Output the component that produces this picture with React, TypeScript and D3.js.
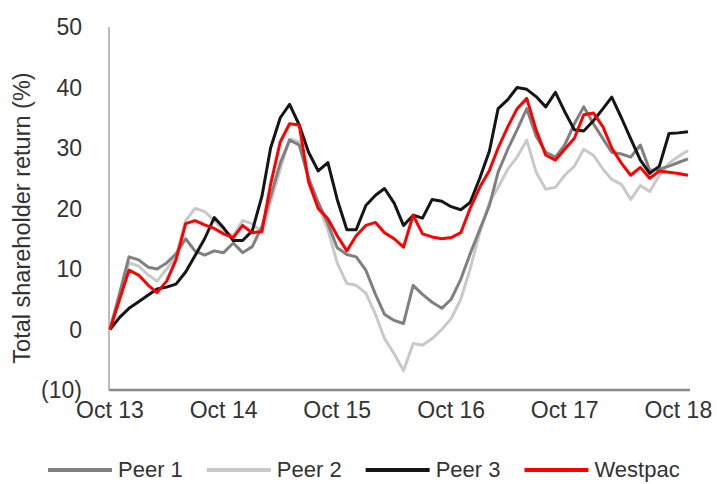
import { useEffect, useRef } from "react";
import * as d3 from "d3";

const width = 717;
const height = 484;
const marginLeft = 110;
const plotRight = 688;
const marginTop = 27;
const plotBottom = 390;

// monthly observations Oct 13 .. Nov 18
const months = d3.timeMonth.range(new Date(2013, 9, 1), new Date(2018, 11, 1));

const peer1 = [
  0, 6, 12, 11.5, 10.3, 10, 11, 12.5, 15, 13, 12.3, 13, 12.7, 14.3, 12.7, 13.7,
  17, 22, 27.5, 31.3, 30.5, 25, 21, 17.5, 13.5, 12.4, 12, 9.8, 5.8, 2.5, 1.5, 1,
  7.3, 5.8, 4.5, 3.5, 5, 8.3, 12.5, 16.5, 20.5, 26, 29.8, 33, 36.5, 32, 29.3,
  28.5, 30.5, 34, 36.8, 34, 31.5, 29.3, 29, 28.5, 30.5, 26.3, 26.5, 27, 27.6,
  28.2,
];
const peer2 = [
  0, 5.5, 11, 10.5, 9, 8, 10, 12, 18, 20, 19.5, 18, 16.4, 15.5, 18, 17.5, 16,
  21, 26.5, 31.5, 31, 25, 20.5, 16.5, 11, 7.6, 7.3, 6, 2.5, -1.5, -4, -6.8,
  -2.3, -2.6, -1.5, 0, 1.8, 5, 10, 16, 21, 23.5, 26.5, 28.5, 31.3, 26, 23.2,
  23.5, 25.5, 27, 29.8, 28.8, 26.5, 24.8, 24, 21.5, 23.8, 22.8, 25.5, 27.5,
  28.6, 29.6,
];
const peer3 = [
  0, 2, 3.5, 4.6, 5.7, 6.7, 7, 7.5, 9.5, 12.2, 15, 18.5, 16.8, 14.7, 14.7, 16.3,
  22, 30, 35, 37.2, 33.8, 29.3, 26.2, 27.6, 21.5, 16.5, 16.5, 20.5, 22.2, 23.3,
  20.9, 17.2, 18.9, 18.4, 21.5, 21.2, 20.3, 19.8, 21, 25, 29.5, 36.5, 38, 40,
  39.7, 38.5, 36.8, 39.2, 36, 33, 32.8, 34.5, 36.5, 38.4, 35, 31.5, 28, 25.8,
  27, 32.4, 32.5, 32.7,
];
const westpac = [
  0, 5, 9.8, 9, 7.3, 6.1, 8, 11.5, 17.5, 18, 17.3, 16.7, 15.8, 15.2, 17.2, 16,
  16.2, 24, 31, 34, 33.8, 24.4, 20, 18.3, 15.5, 13, 15.5, 17.2, 17.7, 16, 15,
  13.6, 18.9, 15.8, 15.3, 15, 15.2, 16, 20, 23.5, 26.3, 30, 33.5, 36.5, 38.2,
  33, 28.8, 28, 29.8, 31.6, 35.5, 35.8, 33.5, 30, 27.5, 25.5, 26.8, 25, 26.2,
  26, 25.8, 25.5,
];

const seriesNames = ["Peer 1", "Peer 2", "Peer 3", "Westpac"];
const seriesValues = [peer1, peer2, peer3, westpac];
const seriesColors = ["#808080", "#c9c9c9", "#151515", "#ff0000"];
const drawOrder = [1, 0, 2, 3];

const yTicks = [-10, 0, 10, 20, 30, 40, 50];
const xTickDates = [2013, 2014, 2015, 2016, 2017, 2018].map(
  (y) => new Date(y, 9, 1)
);

const fmtY = (v: number) => (v < 0 ? `(${Math.abs(v)})` : `${v}`);

const App = () => {
  const legendRef = useRef<SVGGElement>(null);

  const xScale = d3
    .scaleTime()
    .domain([months[0], months[months.length - 1]])
    .range([marginLeft, plotRight]);

  const yScale = d3
    .scaleLinear()
    .domain([-10, 50])
    .range([plotBottom, marginTop]);

  const line = d3
    .line<number>()
    .x((_, i) => xScale(months[i]))
    .y((d) => yScale(d));

  useEffect(() => {
    document.body.style.margin = "0";
    // lay legend items out one after another
    const g = d3.select(legendRef.current);
    g.selectAll("*").remove();
    let x = 48;
    seriesNames.forEach((name, i) => {
      g.append("line")
        .attr("x1", x)
        .attr("x2", x + 64)
        .attr("y1", 470)
        .attr("y2", 470)
        .attr("stroke", seriesColors[i])
        .attr("stroke-width", 4);
      const t = g
        .append("text")
        .attr("x", x + 70)
        .attr("y", 477)
        .attr("font-size", 22)
        .attr("fill", "#333")
        .text(name);
      const w = (t.node() as SVGTextElement).getComputedTextLength();
      x += 70 + w + 24;
    });
  }, []);

  return (
    <svg
      width={width}
      height={height}
      style={{ display: "block", fontFamily: "'Liberation Sans', Arial, sans-serif" }}
    >
      <rect width={width} height={height} fill="#fff" />
      {/* axes */}
      <line
        x1={marginLeft - 1}
        x2={marginLeft - 1}
        y1={marginTop}
        y2={plotBottom}
        stroke="#a6a6a6"
        strokeWidth={1.5}
      />
      <line
        x1={marginLeft - 1}
        x2={plotRight + 2}
        y1={plotBottom}
        y2={plotBottom}
        stroke="#8a8a8a"
        strokeWidth={2.5}
      />
      <g className="y-ticks">
        {yTicks.map((t) => (
          <text
            key={t}
            x={82}
            y={yScale(t)}
            dy="0.35em"
            textAnchor="end"
            fontSize={23}
            fill="#333"
          >
            {fmtY(t)}
          </text>
        ))}
      </g>
      <g className="x-ticks">
        {xTickDates.map((d) => (
          <text
            key={d.getTime()}
            x={xScale(d)}
            y={418}
            textAnchor="middle"
            fontSize={23}
            fill="#333"
          >
            {d3.timeFormat("%b %y")(d)}
          </text>
        ))}
      </g>
      <text
        transform={`translate(30,${218}) rotate(-90)`}
        textAnchor="middle"
        fontSize={23.5}
        fill="#333"
      >
        Total shareholder return (%)
      </text>
      <g className="lines">
        {drawOrder.map((i) => (
          <path
            key={seriesNames[i]}
            d={line(seriesValues[i]) ?? ""}
            fill="none"
            stroke={seriesColors[i]}
            strokeWidth={3}
            strokeLinejoin="round"
          />
        ))}
      </g>
      <g ref={legendRef} className="legend" />
    </svg>
  );
};

export default App;
